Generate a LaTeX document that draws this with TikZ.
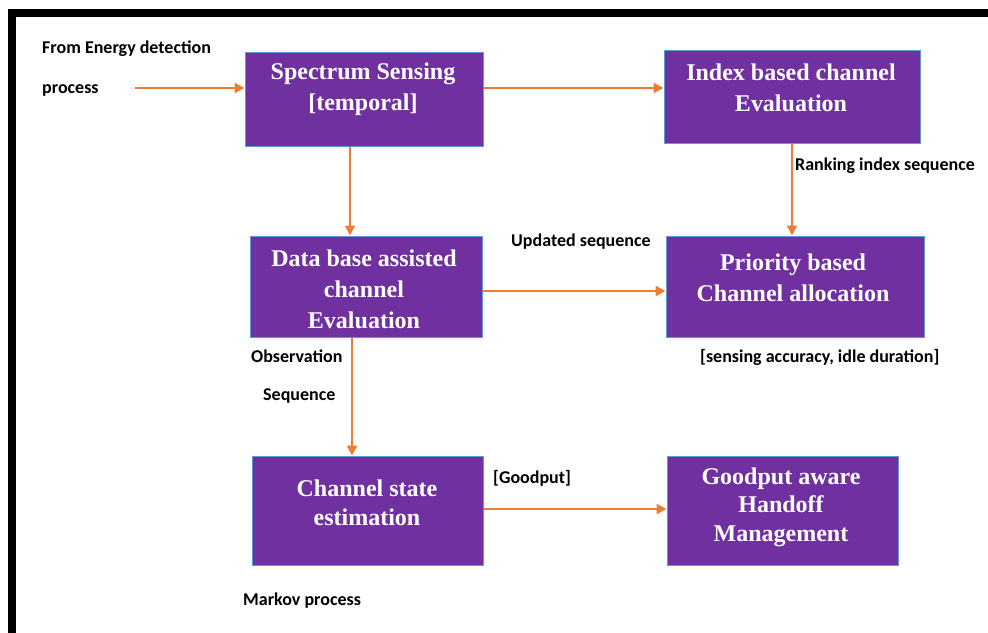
\documentclass[tikz,border=0pt]{standalone}
\usepackage{fontspec}
\setmainfont{Liberation Serif}
\newfontfamily\lblfont{Carlito}
\usetikzlibrary{arrows.meta,positioning}
\definecolor{boxpurple}{HTML}{7030A0}
\definecolor{boxedge}{HTML}{5B9BD5}
\definecolor{arrorange}{HTML}{ED7D31}
\tikzset{
  x=1pt,y=-1pt,
  box/.style={draw=boxedge, line width=1pt, fill=boxpurple, inner sep=0pt},
  boxtext/.style={text=white, align=center, inner sep=0pt,
    font=\fontsize{24}{31}\selectfont\bfseries},
  boxtextb/.style={boxtext, font=\fontsize{24}{28.5}\selectfont\bfseries},
  lbl/.style={anchor=base west, inner sep=0pt, text=black,
    font=\lblfont\fontsize{18}{21}\selectfont\bfseries},
  arr/.style={draw=arrorange, line width=2.6pt,
    -{Triangle[length=10pt,width=10pt]}},
}
\newcommand{\boxat}[5]{% name, x1, y1, x2, y2
  \path[box] (#2,#3) rectangle (#4,#5);
  \coordinate (#1-nw) at (#2,#3);
  \coordinate (#1-se) at (#4,#5);
}
\begin{document}
\begin{tikzpicture}
\useasboundingbox (0,0) rectangle (988,632);
\begin{scope}
\clip (0,0) rectangle (988,632);
\draw[line width=8pt] (12,700) -- (12,13) -- (1100,13);
\end{scope}

% boxes
\node[box, minimum width=238pt, minimum height=94pt] (ss) at (364,99) {};
\node[box, minimum width=256pt, minimum height=93pt] (idx) at (792,96.5) {};
\node[box, minimum width=232pt, minimum height=101pt] (db) at (366,286.5) {};
\node[box, minimum width=258pt, minimum height=101pt] (pri) at (795,286.5) {};
\node[box, minimum width=231pt, minimum height=109pt] (cs) at (367.5,510.5) {};
\node[box, minimum width=231pt, minimum height=109pt] (gp) at (782.5,510.5) {};

% box texts
\node[boxtext] (ssT) at (363,89) {Spectrum Sensing\\{[temporal]}};
\node[boxtext] (idxT) at (791,88) {Index based channel\\Evaluation};
\node[boxtext] (dbT) at (364,289) {Data base assisted\\channel\\Evaluation};
\node[boxtext] (priT) at (793,278) {Priority based\\Channel allocation};
\node[boxtextb] (csT) at (367,503) {Channel state\\estimation};
\node[boxtextb] (gpT) at (781,507) {Goodput aware\\Handoff\\Management};

% labels
\node[lbl] (l1) at (42,53) {From Energy detection};
\node[lbl] (l2) at (42,93) {process};
\node[lbl] (l3) at (795,170) {Ranking index sequence};
\node[lbl] (l4) at (511,246) {Updated sequence};
\node[lbl] (l5) at (700,362) {[sensing accuracy, idle duration]};
\node[lbl] (l6) at (251,362) {Observation};
\node[lbl] (l7) at (263,400) {Sequence};
\node[lbl] (l8) at (493,483) {[Goodput]};
\node[lbl] (l9) at (243,605) {Markov process};

% connectors
\coordinate (src) at (135,88);
\coordinate (ssx) at (350,0);
\coordinate (dbx) at (352,0);
\coordinate (y1) at (0,291);
\coordinate (y2) at (0,509);
\draw[arr] (src) -- (ss.west |- src);
\draw[arr] (ss.east |- src) -- (idx.west |- src);
\draw[arr] (ss.south -| ssx) -- (db.north -| ssx);
\draw[arr] (idx.south) -- (pri.north -| idx.south);
\draw[arr] (db.east |- y1) -- (pri.west |- y1);
\draw[arr] (db.south -| dbx) -- (cs.north -| dbx);
\draw[arr] (cs.east |- y2) -- (gp.west |- y2);
\end{tikzpicture}
\end{document}
